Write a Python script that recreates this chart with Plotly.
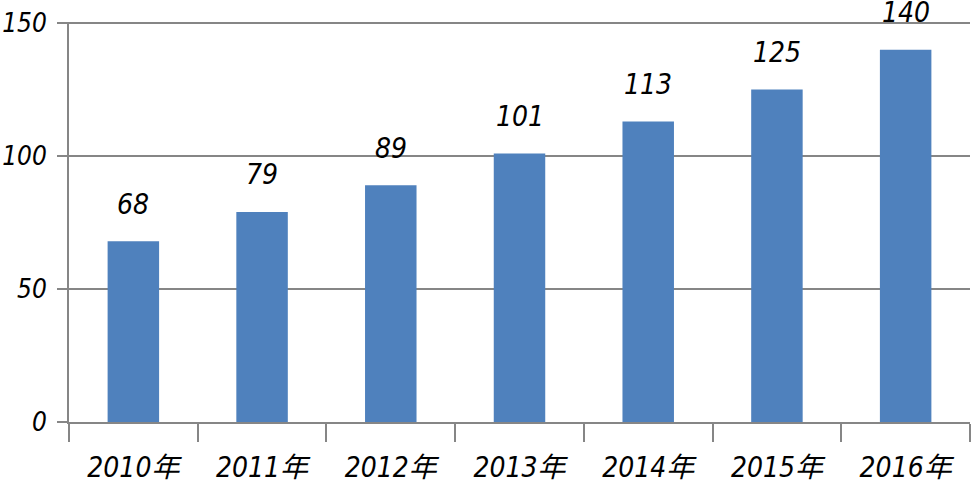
import plotly.graph_objects as go

years = ["2010年", "2011年", "2012年", "2013年", "2014年", "2015年", "2016年"]
values = [68, 79, 89, 101, 113, 125, 140]
y_ticks = [0, 50, 100, 150]

FONT = "DejaVu Sans Condensed, Liberation Sans Narrow, Noto Sans CJK SC, sans-serif"
GRAY = "#868686"

fig = go.Figure(go.Bar(x=years, y=values, marker=dict(color="#4F81BD", line=dict(width=0)), width=0.4,
                       cliponaxis=False, hoverinfo="skip"))

for x, v in zip(years, values):
    fig.add_annotation(x=x, y=v, text=str(v), showarrow=False, yanchor="middle", yshift=37,
                       font=dict(family=FONT, size=28, color="#000000", style="italic"))

fig.update_layout(
    width=971, height=488,
    margin=dict(l=69, r=1, t=22, b=66, autoexpand=False),
    paper_bgcolor="white", plot_bgcolor="white",
    showlegend=False,
    font=dict(family=FONT, size=28, color="#000000", style="italic"),
    xaxis=dict(showline=True, linecolor=GRAY, linewidth=2, ticks="outside", tickson="boundaries",
               ticklen=18, tickcolor=GRAY, tickwidth=2, showgrid=False, automargin=False,
               ticklabelstandoff=19,
               tickfont=dict(family=FONT, size=28, style="italic")),
    yaxis=dict(range=[0, 150.4], tickvals=y_ticks, showline=True, linecolor=GRAY, linewidth=2,
               ticks="outside", ticklen=10, tickcolor=GRAY, tickwidth=2, automargin=False,
               showgrid=True, gridcolor=GRAY, gridwidth=2, zeroline=False, ticklabelstandoff=5,
               tickfont=dict(family=FONT, size=26, style="italic")),
)
fig.write_html("out.html", config={"displayModeBar": False},
               post_script="document.body.style.margin='0';document.body.style.overflow='hidden';")
